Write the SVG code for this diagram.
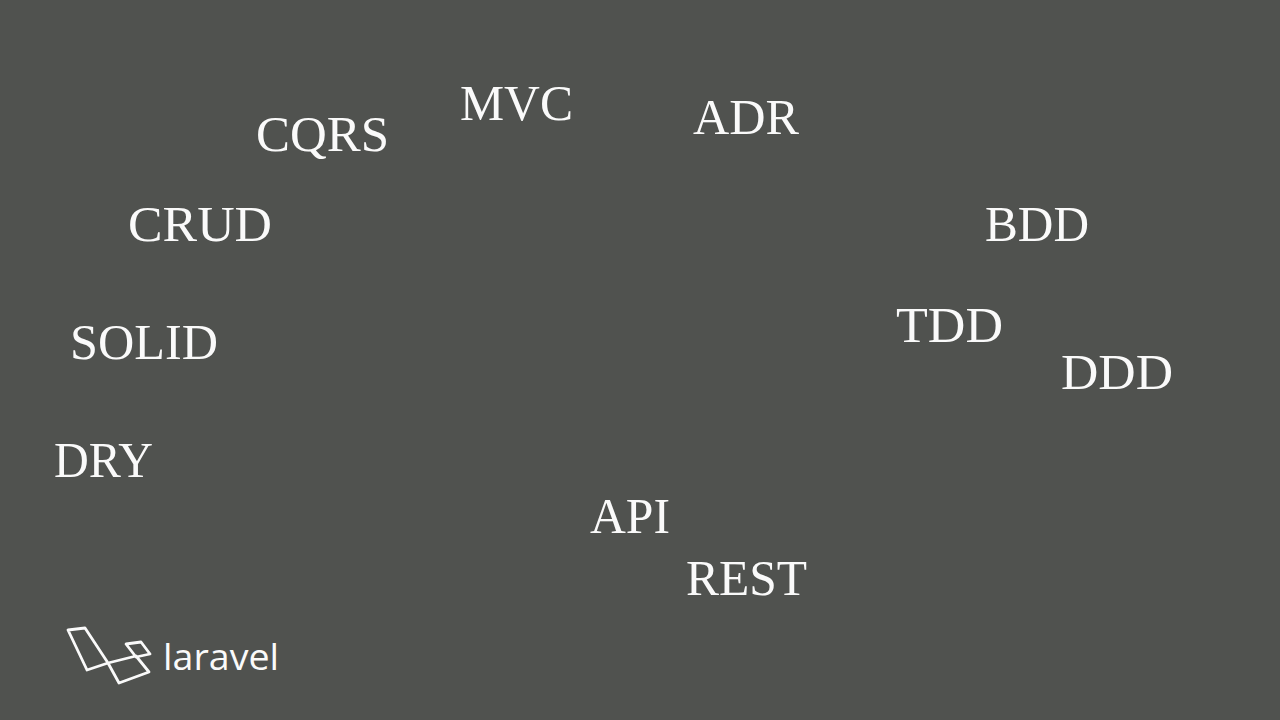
<svg xmlns="http://www.w3.org/2000/svg" width="1280" height="720" viewBox="0 0 1280 720">
<style>
.t{font-family:"Liberation Serif","Times New Roman",serif;font-size:50px;fill:#fafafa}
.l{font-family:"Open Sans","Noto Sans",sans-serif;font-size:36px;fill:#fafafa}
.g{fill:none;stroke:#fafafa;stroke-width:2.8;stroke-linejoin:round;stroke-linecap:round}
</style>
<rect width="1280" height="720" fill="#50524f"/>
<g id="mvc"><text class="t" x="460" y="120" textLength="113" lengthAdjust="spacingAndGlyphs">MVC</text></g>
<g id="cqrs"><text class="t" x="256" y="151" textLength="133" lengthAdjust="spacingAndGlyphs">CQRS</text></g>
<g id="adr"><text class="t" x="693" y="134" textLength="106" lengthAdjust="spacingAndGlyphs">ADR</text></g>
<g id="crud"><text class="t" x="128" y="241" textLength="144" lengthAdjust="spacingAndGlyphs">CRUD</text></g>
<g id="bdd"><text class="t" x="985" y="241" textLength="104" lengthAdjust="spacingAndGlyphs">BDD</text></g>
<g id="solid"><text class="t" x="70" y="359" textLength="148" lengthAdjust="spacingAndGlyphs">SOLID</text></g>
<g id="tdd"><text class="t" x="896" y="342" textLength="107" lengthAdjust="spacingAndGlyphs">TDD</text></g>
<g id="ddd"><text class="t" x="1061" y="389" textLength="112" lengthAdjust="spacingAndGlyphs">DDD</text></g>
<g id="dry"><text class="t" x="54" y="477" textLength="99" lengthAdjust="spacingAndGlyphs">DRY</text></g>
<g id="api"><text class="t" x="590" y="533" textLength="80" lengthAdjust="spacingAndGlyphs">API</text></g>
<g id="rest"><text class="t" x="686" y="595" textLength="121" lengthAdjust="spacingAndGlyphs">REST</text></g>
<g id="laravel">
<path class="g" d="M68 630 L85 628 L108 663 L87 670 Z M108 663 L119 683 L149 672 L136 656 L108 663 M87 670 L108 663 M126 644 L141 642 L150 654 L136 657 Z M136 657 L150 654"/>
<text class="l" x="163" y="670" textLength="116" lengthAdjust="spacingAndGlyphs">laravel</text>
</g>
</svg>
